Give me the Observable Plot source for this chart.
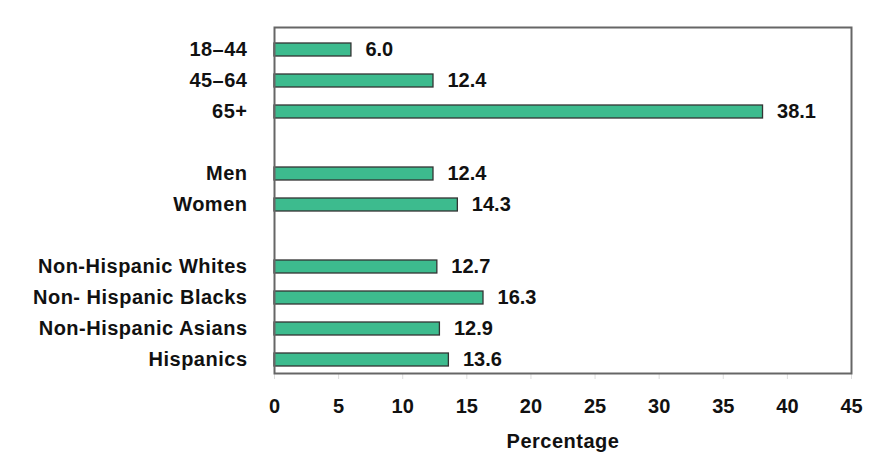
<!DOCTYPE html>
<html><head><meta charset="utf-8">
<script src="https://cdn.jsdelivr.net/npm/d3@7"></script>
<script src="https://cdn.jsdelivr.net/npm/@observablehq/plot@0.6"></script>
<style>
html,body{margin:0;padding:0;background:#fff;}
svg{font-family:"Liberation Sans",Arial,Helvetica,sans-serif;}
g[aria-label="y-axis tick label"] text{letter-spacing:0.5px;}
g.xlabel text{letter-spacing:0.5px;}
</style>
</head><body>
<div id="chart"></div>
<script>
const categories = ["18–44","45–64","65+","gap1","Men","Women","gap2","Non-Hispanic Whites","Non- Hispanic Blacks","Non-Hispanic Asians","Hispanics"];
const values = [6.0,12.4,38.1,null,12.4,14.3,null,12.7,16.3,12.9,13.6];
const xTicks = [0,5,10,15,20,25,30,35,40,45];
const xLabel = "Percentage";

const data = categories.map((c,i)=>({cat:c, value:values[i]})).filter(d=>d.value!=null);

const chart = Plot.plot({
  width: 888,
  height: 474,
  marginLeft: 274,
  marginRight: 37,
  marginTop: 27,
  marginBottom: 101,
  style: {fontFamily: '"Liberation Sans", Arial, sans-serif', background: "#fff"},
  x: {domain:[0,45], ticks: xTicks},
  y: {domain: categories, paddingInner: 0.58, paddingOuter: 0.335, insetTop: 4.5, insetBottom: -4.5},
  marks: [
    Plot.barX(data, {x: "value", y: "cat", fill: "#3dbb8e", stroke: "#333", strokeWidth: 1.3}),
    Plot.text(data, {x: "value", y: "cat", text: d=>d.value.toFixed(1), textAnchor: "start", dx: 14, fontSize: 20, fontWeight: "bold", fill: "#111"}),
    Plot.axisY({tickSize: 0, tickPadding: 27, fontSize: 20, fontWeight: "bold", tickFormat: d=>d.startsWith("gap")?"":d, label: null, color:"#111"}),
    Plot.axisX({ticks: xTicks, tickSize: 6, tickPadding: 19, fontSize: 20, fontWeight: "bold", label: null, stroke: "#ddd", color:"#111"}),
    Plot.text([xLabel], {frameAnchor: "bottom", dy: 74, fontSize: 20, fontWeight: "bold", fill: "#111", className: "xlabel"}),
    Plot.frame({stroke: "#666", strokeWidth: 2})
  ]
});
document.getElementById("chart").appendChild(chart);
</script>
</body></html>
